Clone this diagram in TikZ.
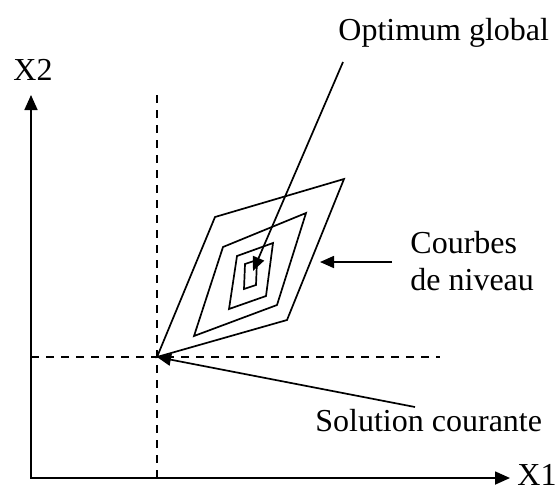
\documentclass[tikz,border=0pt]{standalone}
\usepackage{fontspec}
\setmainfont{Liberation Serif}
\usetikzlibrary{arrows.meta, positioning}

\begin{document}
\begin{tikzpicture}[x=0.5pt,y=-0.5pt,
	axis/.style={line width=0.85pt,{Triangle[length=7.5pt,width=6.5pt]}-{Triangle[length=7.5pt,width=6.5pt]}},
	guide/.style={line width=0.7pt,dash pattern=on 4pt off 3.5pt},
	level/.style={line width=0.85pt,line join=miter},
	pointer/.style={line width=0.85pt,-{Triangle[length=7pt,width=6pt]}},
	lbl/.style={inner sep=0pt,anchor=base west,font=\fontsize{16}{19}\selectfont}]
\useasboundingbox (0,0) rectangle (555,489);
% axes
\coordinate (O) at (31,478);
\coordinate (X1end) at (510,478);
\coordinate (X2end) at (31,95);
\draw[axis] (X2end) -- (O) -- (X1end);
\node[lbl] (x2) at (13,80) {X2};
\node[lbl] (x1) at (517,485) {X1};
% current solution and guides
\coordinate (S) at (157,357);
\draw[guide] (S |- X2end) -- (S |- O);
\draw[guide] (O |- S) -- (440,357);
% level curves
\draw[level] (S) -- (215,217) -- (344,179) -- (287,320) -- cycle;
\draw[level] (194,336) -- (223,247) -- (306,213) -- (277,305) -- cycle;
\draw[level] (229,309) -- (237,256) -- (273,243) -- (266,296) -- cycle;
\draw[level] (244,289) -- (245,264) -- (257,260) -- (256,285) -- cycle;
\coordinate (Opt) at (253,271);
% labels and pointers
\node[lbl] (opt) at (338,40) {Optimum global};
\node[lbl] (cdn1) at (410,253) {Courbes};
\node[lbl] (cdn2) at (410,290) {de niveau};
\node[lbl] (sol) at (315,431) {Solution courante};
\coordinate (optfoot) at (343,62);
\coordinate (cdnfoot) at (392,262);
\coordinate (cdntip) at (320,262);
\coordinate (solfoot) at (415,407);
\draw[pointer] (optfoot) -- (Opt);
\draw[pointer] (cdnfoot) -- (cdntip);
\draw[pointer] (solfoot) -- (S);
\end{tikzpicture}
\end{document}
